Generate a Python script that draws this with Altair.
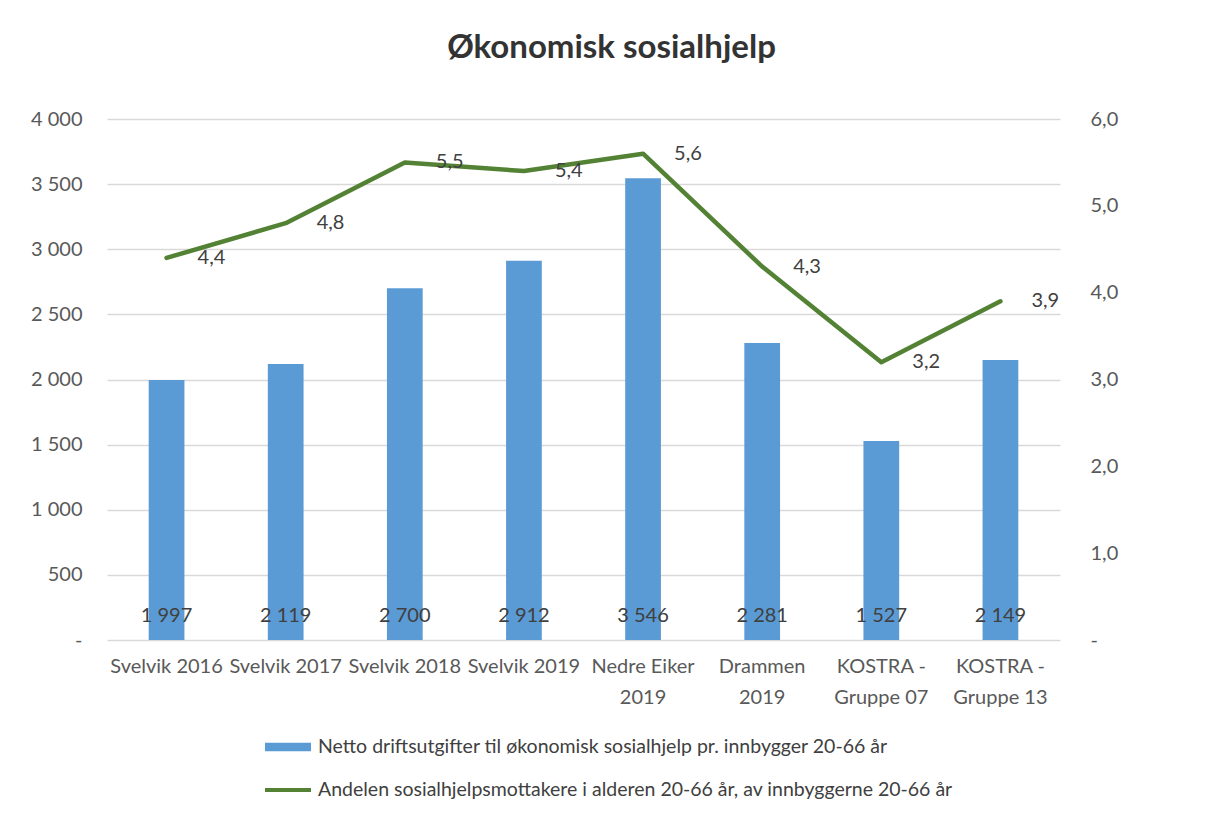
import altair as alt
import pandas as pd
import json

categories = ["Svelvik 2016", "Svelvik 2017", "Svelvik 2018", "Svelvik 2019",
              "Nedre Eiker 2019", "Drammen 2019", "KOSTRA - Gruppe 07", "KOSTRA - Gruppe 13"]
axis_label_lines = [["Svelvik 2016"], ["Svelvik 2017"], ["Svelvik 2018"], ["Svelvik 2019"],
                    ["Nedre Eiker", "2019"], ["Drammen", "2019"], ["KOSTRA -", "Gruppe 07"], ["KOSTRA -", "Gruppe 13"]]
netto = [1997, 2119, 2700, 2912, 3546, 2281, 1527, 2149]
andel = [4.4, 4.8, 5.5, 5.4, 5.6, 4.3, 3.2, 3.9]
series_names = ["Netto driftsutgifter til økonomisk sosialhjelp pr. innbygger 20-66 år",
                "Andelen sosialhjelpsmottakere i alderen 20-66 år, av innbyggerne 20-66 år"]
left_ticks = [0, 500, 1000, 1500, 2000, 2500, 3000, 3500, 4000]
right_ticks = [0, 1, 2, 3, 4, 5, 6]

BLUE = "#5B9BD5"
GREEN = "#548235"
FONT = "Lato"

df = pd.DataFrame({"kategori": categories, "netto": netto, "andel": andel})
legend_df = pd.DataFrame({"serie": series_names, "kategori": categories[:2], "netto": netto[:2]})

label_expr = (json.dumps(axis_label_lines) + "[indexof(" + json.dumps(categories) + ", datum.label)]")

x_enc = alt.X("kategori:N", sort=categories, title=None,
              scale=alt.Scale(paddingInner=0.7, paddingOuter=0.35),
              axis=alt.Axis(labelAngle=0, labelExpr=label_expr, labelFontSize=20, labelColor="#595959",
                            labelFont=FONT, labelPadding=16, labelLineHeight=31, ticks=False,
                            domain=False, grid=False, labelBaseline="top"))

left_axis = alt.Axis(values=left_ticks, orient="left", title=None, ticks=False, domain=False,
                     grid=True, gridColor="#D9D9D9", gridWidth=1.3, labelPadding=25,
                     labelFontSize=20, labelColor="#595959", labelFont=FONT,
                     labelExpr="datum.value == 0 ? '-  ' : replace(format(datum.value, ','), ',', ' ')")
left_scale = alt.Scale(domain=[0, 4000], nice=False, zero=True)

bars = alt.Chart(df).mark_bar(color=BLUE).encode(
    x=x_enc,
    y=alt.Y("netto:Q", scale=left_scale, axis=left_axis),
)
bar_text = alt.Chart(df).transform_calculate(
    lbl="replace(format(datum.netto, ','), ',', ' ')"
).mark_text(baseline="middle", dy=-24, fontSize=20, font=FONT, color="#404040").encode(
    x=alt.X("kategori:N", sort=categories),
    y=alt.Y(datum=0, type="quantitative", scale=left_scale, axis=left_axis),
    text="lbl:N",
)

right_axis = alt.Axis(values=right_ticks, orient="right", title=None, ticks=False, domain=False,
                      grid=False, labelPadding=30, labelFontSize=20, labelColor="#595959",
                      labelFont=FONT,
                      labelExpr="datum.value == 0 ? '-' : replace(format(datum.value, '.1f'), '.', ',')")
right_scale = alt.Scale(domain=[0, 6], nice=False, zero=True)

line = alt.Chart(df).mark_line(color=GREEN, strokeWidth=4.5, strokeCap="round", strokeJoin="round").encode(
    x=alt.X("kategori:N", sort=categories),
    y=alt.Y("andel:Q", scale=right_scale, axis=right_axis),
)
line_text = alt.Chart(df).transform_calculate(
    lbl="replace(format(datum.andel, '.1f'), '.', ',')"
).mark_text(align="left", baseline="middle", dx=31, fontSize=20, font=FONT, color="#404040").encode(
    x=alt.X("kategori:N", sort=categories),
    y=alt.Y("andel:Q", scale=right_scale, axis=right_axis),
    text="lbl:N",
)

legend_layer = alt.Chart(legend_df).mark_point(filled=True, opacity=0).encode(
    x=alt.X("kategori:N", sort=categories),
    y=alt.Y("netto:Q", scale=left_scale, axis=left_axis),
    color=alt.Color("serie:N", sort=series_names,
                    scale=alt.Scale(domain=series_names, range=[BLUE, GREEN]),
                    legend=alt.Legend(title=None, orient="none", legendX=158, legendY=605,
                                      direction="vertical", symbolOpacity=1, symbolSize=2116,
                                      symbolStrokeWidth=0, labelFontSize=19.5, labelFont=FONT,
                                      labelColor="#404040", labelOffset=7, rowPadding=10,
                                      labelLimit=0, padding=0)),
    shape=alt.Shape("serie:N", sort=series_names,
                    scale=alt.Scale(domain=series_names,
                                    range=["M-1,-0.19H1V0.19H-1Z", "M-1,-0.09H1V0.09H-1Z"]),
                    legend=None),
)

left = alt.layer(bars, bar_text, legend_layer)
right = alt.layer(line, line_text)

chart = alt.layer(left, right).resolve_scale(y="independent").properties(
    width=953, height=521,
    autosize=alt.AutoSizeParams(type="none"),
    padding={"left": 99, "top": 111, "right": 140, "bottom": 180},
    background="white",
    title=alt.TitleParams("Økonomisk sosialhjelp", font=FONT, fontSize=33, fontWeight="bold",
                          color="#333333", anchor="middle", dx=28, offset=44),
).configure_view(stroke=None)

chart.save("out.html", embed_options={"renderer": "svg", "actions": False})
